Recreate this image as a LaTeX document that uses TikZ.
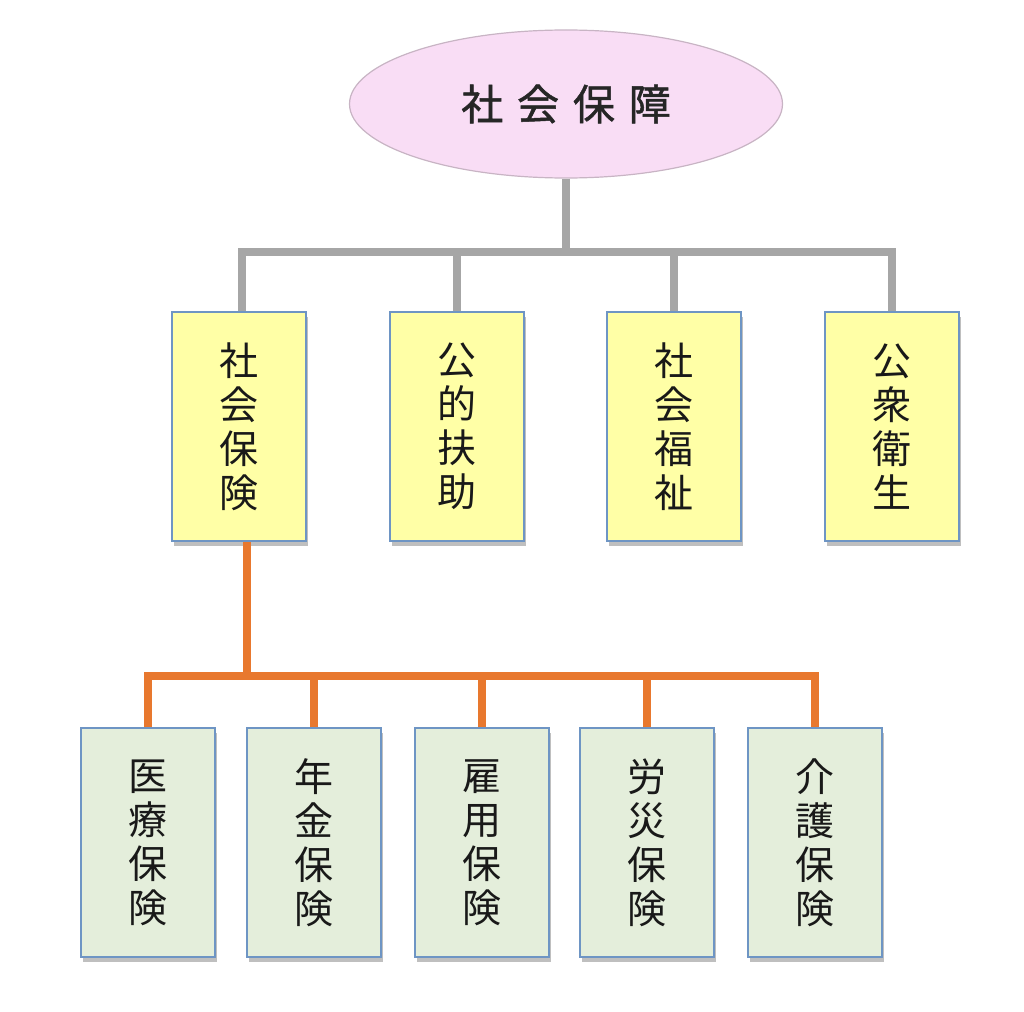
\documentclass[tikz,border=0pt]{standalone}
\usepackage{fontspec}
\newfontfamily\cjk{Noto Sans CJK JP}
\newfontfamily\cjkb[FakeBold=1.2]{Noto Sans CJK JP}
\usetikzlibrary{shapes.geometric,shadows}
\definecolor{pinkfill}{HTML}{F9DDF5}
\definecolor{pinkline}{HTML}{C8B4C4}
\definecolor{yelfill}{HTML}{FFFFA6}
\definecolor{grnfill}{HTML}{E4EEDB}
\definecolor{boxline}{HTML}{6E95C4}
\definecolor{grayline}{HTML}{A6A6A6}
\definecolor{orline}{HTML}{E8782E}
\tikzset{
  topnode/.style={ellipse, draw=pinkline, line width=1.2pt, fill=pinkfill,
    minimum width=433pt, minimum height=148pt, inner sep=0pt,
    font=\cjkb\fontsize{42}{48}\selectfont, text=black!85},
  vbox/.style={rectangle, draw=boxline, line width=1.2pt,
    minimum width=134pt, minimum height=229pt, inner sep=0pt, align=center,
    font=\cjk\fontsize{39}{44}\selectfont, text=black!90,
    drop shadow={shadow xshift=2pt, shadow yshift=-5pt, opacity=0.25, fill=black}},
  ybox/.style={vbox, fill=yelfill},
  gbox/.style={vbox, fill=grnfill},
  gconn/.style={draw=grayline, line width=8pt},
  oconn/.style={draw=orline, line width=8pt}
}
\begin{document}
\begin{tikzpicture}[x=1pt,y=-1pt]
\useasboundingbox (0,0) rectangle (1024,1011);
\node[topnode] (top) at (566,104) {社\hspace{0.33em}会\hspace{0.33em}保\hspace{0.33em}障\hspace{0.1em}};
% yellow boxes
\node[ybox] (y1) at (239,426.5) {社\\会\\保\\険};
\node[ybox] (y2) at (457,426.5) {公\\的\\扶\\助};
\node[ybox] (y3) at (674,426.5) {社\\会\\福\\祉};
\node[ybox] (y4) at (892,426.5) {公\\衆\\衛\\生};
% green boxes
\node[gbox] (g1) at (148,842.5) {医\\療\\保\\険};
\node[gbox] (g2) at (314,842.5) {年\\金\\保\\険};
\node[gbox] (g3) at (482,842.5) {雇\\用\\保\\険};
\node[gbox] (g4) at (647,842.5) {労\\災\\保\\険};
\node[gbox] (g5) at (815,842.5) {介\\護\\保\\険};
% gray connectors
\coordinate (gb) at (566,252);
\coordinate (ob) at (247,676);
\draw[gconn] (top.south -| gb) -- (gb);
\draw[gconn, line join=miter] (y1.north -| 242,0) |- (gb);
\draw[gconn, line join=miter] (y4.north) |- (gb);
\draw[gconn] (y2.north) -- (y2.north |- gb);
\draw[gconn] (y3.north) -- (y3.north |- gb);
% orange connectors
\draw[oconn] (y1.south -| ob) -- (ob);
\draw[oconn, line join=miter] (g1.north) |- (ob);
\draw[oconn, line join=miter] (g5.north) |- (ob);
\draw[oconn] (g2.north) -- (g2.north |- ob);
\draw[oconn] (g3.north) -- (g3.north |- ob);
\draw[oconn] (g4.north) -- (g4.north |- ob);
\end{tikzpicture}
\end{document}
